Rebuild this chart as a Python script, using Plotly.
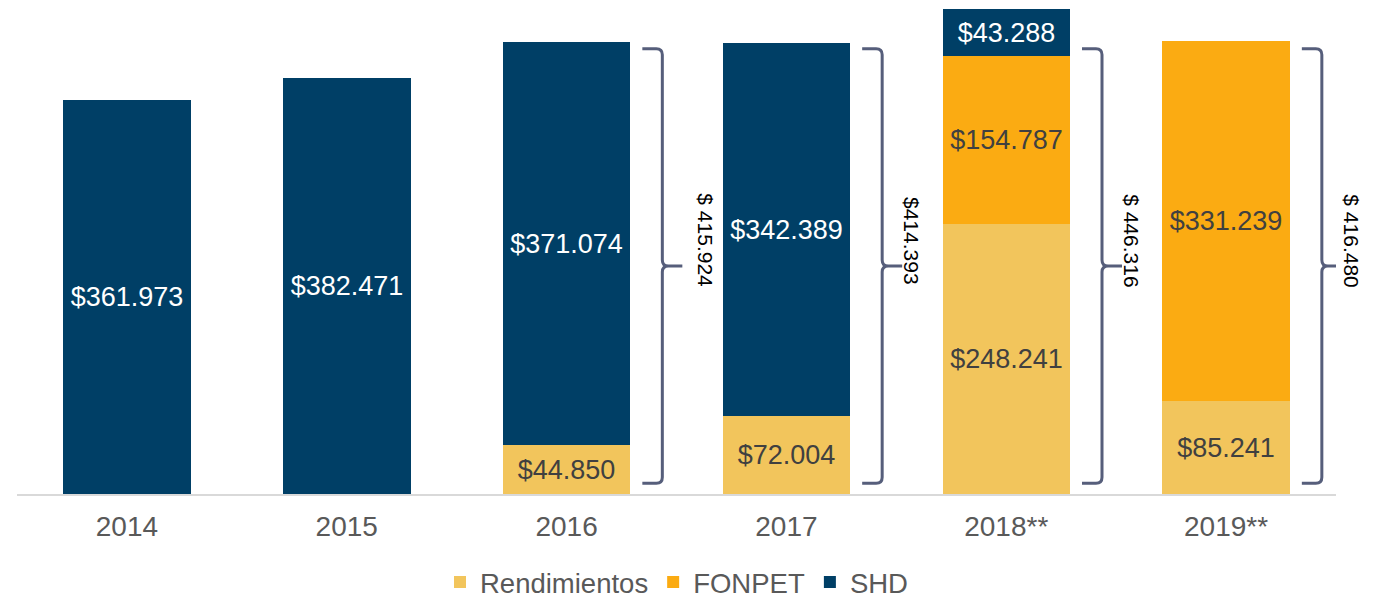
import plotly.graph_objects as go

categories = ["2014", "2015", "2016", "2017", "2018**", "2019**"]
rendimientos = [None, None, 44.850, 72.004, 248.241, 85.241]
fonpet = [None, None, None, None, 154.787, 331.239]
shd = [361.973, 382.471, 371.074, 342.389, 43.288, None]
total_labels = [None, None, "$ 415.924", "$414.393", "$ 446.316", "$ 416.480"]

C_REND = "#F2C55C"
C_FON = "#FBAB12"
C_SHD = "#003F66"
C_BRACE = "#565E7B"

# page body adds an 8px offset; figure is laid out to compensate
FIG_W, FIG_H = 1367, 598
ML, MR, MT, MB = 9, 39, 0, 112
PLOT_W = FIG_W - ML - MR
PLOT_H = FIG_H - MT - MB
Y_TOP = 447.0
YPX = PLOT_H / Y_TOP  # pixels per data unit

x = list(range(len(categories)))
BAR_W = 0.58
X0, X1 = -0.5, 5.5
PX = PLOT_W / (X1 - X0)  # pixels per category unit


def fmt(v):
    return "" if v is None else "${:.3f}".format(v)


fig = go.Figure()
for name, vals, col, tcol in [
    ("Rendimientos", rendimientos, C_REND, "#404040"),
    ("FONPET", fonpet, C_FON, "#404040"),
    ("SHD", shd, C_SHD, "#FFFFFF"),
]:
    fig.add_trace(go.Bar(
        name=name, x=x, y=vals, width=BAR_W, marker=dict(color=col, line=dict(width=0)),
        text=[fmt(v) for v in vals], textposition="inside", insidetextanchor="middle",
        textangle=0, constraintext="none", cliponaxis=False,
        textfont=dict(family="Liberation Sans, Arial", size=27, color=tcol),
        hoverinfo="skip",
    ))

BR_TOP = 409.5
BR_BOT = 10
shapes = []
annotations = []
for i, lab in enumerate(total_labels):
    if lab is None:
        continue
    edge = i + BAR_W / 2
    xs = edge + 12 / PX
    xv = edge + 32 / PX
    xt = edge + 52 / PX
    rx = 6 / PX
    ry = 6 / YPX
    mid = (BR_TOP + BR_BOT) / 2
    path = (
        f"M {xs},{BR_TOP} L {xv - rx},{BR_TOP} Q {xv},{BR_TOP} {xv},{BR_TOP - ry} "
        f"L {xv},{mid + ry} Q {xv},{mid} {xv + rx},{mid} L {xt},{mid} "
        f"M {xv + rx},{mid} Q {xv},{mid} {xv},{mid - ry} "
        f"L {xv},{BR_BOT + ry} Q {xv},{BR_BOT} {xv - rx},{BR_BOT} L {xs},{BR_BOT}"
    )
    shapes.append(dict(type="path", xref="x", yref="y", path=path,
                       line=dict(color=C_BRACE, width=3)))
    xpaper = (edge + 75 / PX - X0) / (X1 - X0)
    annotations.append(dict(x=xpaper, y=233, xref="paper", yref="y", text=lab,
                            showarrow=False, textangle=90,
                            font=dict(family="Liberation Sans, Arial", size=21, color="#000000")))

fig.update_layout(
    width=FIG_W, height=FIG_H,
    margin=dict(l=ML, r=MR, t=MT, b=MB, autoexpand=False),
    barmode="stack",
    bargap=0,
    plot_bgcolor="white", paper_bgcolor="white",
    shapes=shapes, annotations=annotations,
    showlegend=True,
    legend=dict(orientation="h", x=0.5, xanchor="center", y=-88 / PLOT_H, yanchor="middle",
                traceorder="normal",
                font=dict(family="Liberation Sans, Arial", size=27.5, color="#595959"),
                itemwidth=30),
    xaxis=dict(range=[X0, X1], tickmode="array", tickvals=x, ticktext=categories,
               showgrid=False, zeroline=False, showline=True, linecolor="#D9D9D9", linewidth=2,
               ticks="outside", ticklen=6, tickcolor="rgba(0,0,0,0)", automargin=False,
               tickfont=dict(family="Liberation Sans, Arial", size=28, color="#595959")),
    yaxis=dict(range=[0, Y_TOP], visible=False, showgrid=False, zeroline=False, automargin=False),
)

fig.write_html("out.html")
